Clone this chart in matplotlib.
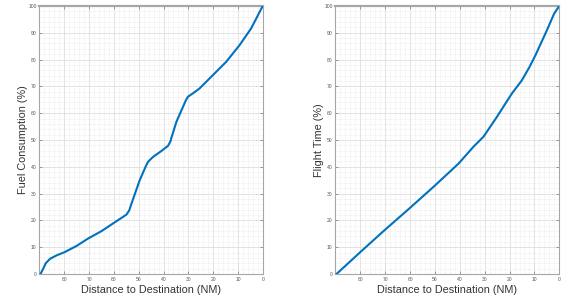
import matplotlib
matplotlib.use("Agg")
import matplotlib.pyplot as plt
from matplotlib.ticker import MultipleLocator
import numpy as np

fuel_dist = [89.6, 88.5, 87.5, 85.7, 83.0, 80.0, 75.0, 70.3, 65.0, 60.3, 56.5, 54.9, 53.8, 52.9,
             49.6, 47.0, 46.2, 45.0, 44.2, 41.0, 38.2, 37.2, 36.9, 34.8, 31.0, 30.2, 28.0,
             25.5, 20.1, 14.8, 9.4, 4.7, 0.0]
fuel_pct = [0.0, 2.0, 4.0, 5.7, 7.0, 8.1, 10.5, 13.3, 16.0, 18.9, 21.2, 22.2, 23.8, 26.3,
            35.0, 40.5, 41.9, 43.0, 43.7, 45.8, 47.8, 49.5, 50.6, 56.8, 64.8, 66.1, 67.5,
            69.2, 74.2, 79.1, 85.3, 91.6, 100.0]

time_dist = [89.6, 80.1, 70.7, 60.6, 50.6, 40.5, 34.5, 30.5, 25.1, 19.1, 15.1, 12.0, 9.7,
             5.0, 2.1, 0.0]
time_pct = [0.0, 8.1, 16.0, 24.2, 32.5, 41.2, 47.5, 51.2, 58.6, 67.3, 72.2, 77.2, 81.4,
            90.9, 97.1, 100.0]

ylabels = ["Fuel Consumption (%)", "Flight Time (%)"]
xlabel = "Distance to Destination (NM)"

plt.rcParams['font.family'] = ['Liberation Sans', 'DejaVu Sans']
fig = plt.figure(figsize=(5.61, 3.05), dpi=100)
ax1 = fig.add_axes([0.0704, 0.1016, 0.398, 0.879])
ax2 = fig.add_axes([0.598, 0.1016, 0.399, 0.879])

blue = (0.0, 0.447, 0.741)
edge = '#a6a6a6'
for ax, xs, ys, yl in [(ax1, fuel_dist, fuel_pct, ylabels[0]), (ax2, time_dist, time_pct, ylabels[1])]:
    ax.plot(xs, ys, color=blue, lw=1.5, solid_capstyle='round', solid_joinstyle='round', zorder=3)
    ax.set_xlim(90, 0)
    ax.set_ylim(0, 100)
    ax.xaxis.set_major_locator(MultipleLocator(10))
    ax.yaxis.set_major_locator(MultipleLocator(10))
    ax.xaxis.set_minor_locator(MultipleLocator(2))
    ax.yaxis.set_minor_locator(MultipleLocator(2))
    ax.set_xticks(np.arange(0, 81, 10))
    ax.grid(True, which='major', color='#dedede', lw=0.6)
    ax.grid(True, which='minor', color='#e3e3e3', lw=0.5, ls=(0, (1, 1.5)))
    ax.set_axisbelow(True)
    ax.tick_params(which='major', direction='in', length=2, width=0.6, color='#888888',
                   labelsize=3.6, labelcolor='#555555', top=True, right=True, pad=2)
    ax.tick_params(which='minor', length=0, top=True, right=True)
    for s in ax.spines.values():
        s.set_color(edge)
        s.set_linewidth(0.8)
    ax.spines['top'].set_linewidth(1.6)
    ax.set_xlabel(xlabel, fontsize=7.8, color='#333333', labelpad=2)
    ax.set_ylabel(yl, fontsize=7.8, color='#333333', labelpad=0.5)

fig.savefig("out.png", dpi=100)
